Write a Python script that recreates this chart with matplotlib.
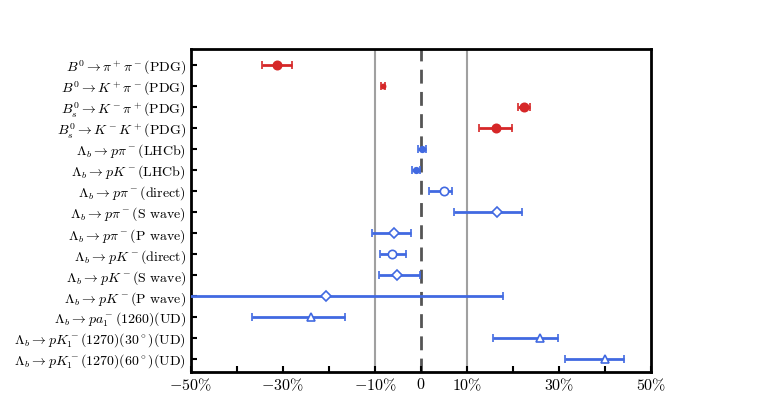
import numpy as np
import matplotlib
matplotlib.use("Agg")
import matplotlib.pyplot as plt

plt.rcParams['mathtext.fontset'] = 'cm'
plt.rcParams['font.family'] = 'serif'
plt.rcParams['font.serif'] = ['cmr10', 'DejaVu Serif']
plt.rcParams['axes.unicode_minus'] = False

labels = [r'$B^0\to\pi^+\pi^-$(PDG)',
          r'$B^0\to K^+\pi^-$(PDG)',
          r'$B_s^0\to K^-\pi^+$(PDG)',
          r'$B_s^0\to K^-K^+$(PDG)',
          r'$\Lambda_b\to p\pi^-$(LHCb)',
          r'$\Lambda_b\to pK^-$(LHCb)',
          r'$\Lambda_b\to p\pi^-$(direct)',
          r'$\Lambda_b\to p\pi^-$(S wave)',
          r'$\Lambda_b\to p\pi^-$(P wave)',
          r'$\Lambda_b\to pK^-$(direct)',
          r'$\Lambda_b\to pK^-$(S wave)',
          r'$\Lambda_b\to pK^-$(P wave)',
          r'$\Lambda_b\to pa_1^-$(1260)(UD)',
          r'$\Lambda_b\to pK_1^-$(1270)(30$^\circ$)(UD)',
          r'$\Lambda_b\to pK_1^-$(1270)(60$^\circ$)(UD)']

# central values and errors in %
acp = [-31.3, -8.3, 22.4, 16.3, 0.2, -1.1, 5.1, 16.6, -5.8, -6.2, -5.1, -20.7, -23.9, 25.9, 39.9]
err_lo = [3.2, 0.4, 1.3, 3.6, 0.9, 0.8, 3.3, 9.4, 4.8, 2.7, 4.1, 40.0, 12.9, 10.2, 8.7]
err_hi = [3.2, 0.4, 1.3, 3.5, 0.9, 0.8, 1.7, 5.4, 3.6, 2.9, 5.0, 38.5, 7.5, 3.9, 4.2]
markers = ['o', 'o', 'o', 'o', 'o', 'o', 'o', 'D', 'D', 'o', 'D', 'D', '^', '^', '^']
filled = [True] * 6 + [False] * 9
colors = ['#d62728'] * 4 + ['#4169e1'] * 11
msizes = [6, 3, 6, 6, 4, 4, 6, 5, 5, 6, 5, 5, 6, 6, 6]

fig, ax = plt.subplots(figsize=(7.66, 4.2), dpi=100)
fig.subplots_adjust(left=0.249, right=0.85, top=0.884, bottom=0.114)

ax.axvline(-10, color='#a0a0a0', lw=1.5, zorder=1)
ax.axvline(10, color='#a0a0a0', lw=1.5, zorder=1)
ax.axvline(0, color='#555555', lw=2, ls=(0, (5, 3)), zorder=1)

y = np.arange(len(labels))
for i in range(len(labels)):
    ax.errorbar(acp[i], y[i], xerr=[[err_lo[i]], [err_hi[i]]], fmt=markers[i],
                color=colors[i], ms=msizes[i], mfc=colors[i] if filled[i] else 'white',
                mec=colors[i], mew=1.2, elinewidth=2, capsize=3, capthick=2, zorder=3)

ax.set_xlim(-50, 50)
ax.set_ylim(len(labels) - 0.38, -0.76)
ax.set_yticks(y)
ax.set_yticklabels(labels, fontsize=10)
ax.set_xticks(np.arange(-50, 51, 10))
ax.set_xticklabels([r'$-50\%$', '', r'$-30\%$', '', r'$-10\%$', r'$0$',
                    r'$10\%$', '', r'$30\%$', '', r'$50\%$'], fontsize=11.5)
ax.tick_params(direction='in', width=1.5, length=4)
for s in ax.spines.values():
    s.set_linewidth(2)

plt.savefig('out.png')
